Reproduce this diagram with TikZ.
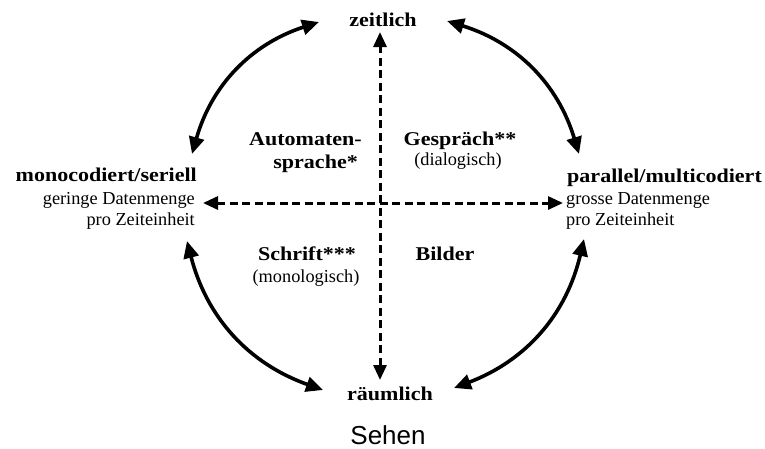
\documentclass[tikz,border=0pt]{standalone}
\usepackage{fontspec}
\setmainfont{Liberation Serif}[BoldFeatures={FakeStretch=1.13}]
\newfontfamily\sehenfont{Liberation Sans}
\usetikzlibrary{arrows.meta}
\begin{document}
\begin{tikzpicture}[x=1pt,y=-1pt,
  lab/.style={inner sep=0pt,anchor=base,font=\fontsize{18.3}{20}\selectfont},
  blab/.style={inner sep=0pt,anchor=base,font=\fontsize{19.5}{22}\selectfont\bfseries},
  arcarrow/.style={line width=3.6pt,{Triangle[length=17pt,width=15pt]}-{Triangle[length=17pt,width=15pt]},bend left=28},
  dashax/.style={line width=3pt,dash pattern=on 8pt off 4.5pt,{Triangle[length=15pt,width=13pt]}-{Triangle[length=15pt,width=13pt]}}
]
\useasboundingbox (0,0) rectangle (765,448);
% axis labels
\node[blab] (zeit) at (383,26) {zeitlich};
\node[blab] (raum) at (390,400) {räumlich};
\node[inner sep=0pt,anchor=base,font=\sehenfont\fontsize{26}{28}\selectfont] (sehen) at (388,444) {Sehen};
% left block
\node[blab,anchor=base east] (mono) at (197,181) {monocodiert/seriell};
\node[lab,anchor=base east] (gering) at (195,204) {geringe Datenmenge};
\node[lab,anchor=base east] (proL) at (195,225) {pro Zeiteinheit};
% right block
\node[blab,anchor=base west] (para) at (567,182) {parallel/multicodiert};
\node[lab,anchor=base west] (gross) at (566,204) {grosse Datenmenge};
\node[lab,anchor=base west] (proR) at (566,225) {pro Zeiteinheit};
% quadrant labels
\node[blab,anchor=base east] (auto) at (362,145) {Automaten-};
\node[blab,anchor=base east] (spr) at (358,168) {sprache*};
\node[blab] (gesp) at (460,145) {Gespräch**};
\node[lab] (dial) at (458,165) {(dialogisch)};
\node[blab] (schr) at (307,260) {Schrift***};
\node[lab] (mono2) at (306,282) {(monologisch)};
\node[blab] (bild) at (445,260) {Bilder};
% dashed axes
\coordinate (vt) at (380,32);
\coordinate (vb) at (380,380);
\draw[dashax] (vb) -- (vt);
\coordinate (hl) at (203,203);
\coordinate (hr) at (563,203);
\draw[dashax] (hl) -- (hr);
% curved arrows
\coordinate (tl1) at (192,154);
\coordinate (tl2) at (319,22);
\coordinate (tr1) at (447,21);
\coordinate (tr2) at (579,154);
\coordinate (br1) at (584,239);
\coordinate (br2) at (454,388);
\coordinate (bl1) at (323,390);
\coordinate (bl2) at (187,241);
\draw[arcarrow] (tl1) to (tl2);
\draw[arcarrow] (tr1) to (tr2);
\draw[arcarrow] (br1) to (br2);
\draw[arcarrow] (bl1) to (bl2);
\end{tikzpicture}
\end{document}
